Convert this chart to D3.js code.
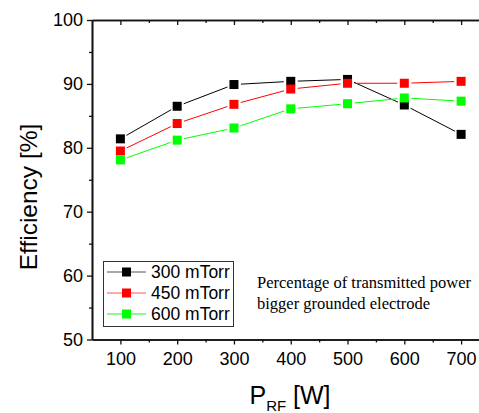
<!DOCTYPE html>
<html><head><meta charset="utf-8">
<script src="https://cdn.jsdelivr.net/npm/d3@7"></script>
<style>body{margin:0;background:#fff}svg{display:block}</style>
</head><body>
<script>
const powers = [100, 200, 300, 400, 500, 600, 700];
const eff300 = [81.4, 86.5, 89.9, 90.4, 90.7, 86.7, 82.1];
const eff450 = [79.5, 83.8, 86.8, 89.2, 90.1, 90.1, 90.4];
const eff600 = [78.1, 81.2, 83.1, 86.1, 86.9, 87.8, 87.3];
const seriesNames = ["300 mTorr", "450 mTorr", "600 mTorr"];
const seriesColors = ["#000000", "#ff0000", "#00ff00"];
const legendLineColors = ["#555555", "#ff5555", "#22ee22"];
const xMajor = [100, 200, 300, 400, 500, 600, 700];
const xMinor = [150, 250, 350, 450, 550, 650, 750];
const yMajor = [50, 60, 70, 80, 90, 100];
const yMinor = [55, 65, 75, 85, 95];
const note = ["Percentage of transmitted power", "bigger grounded electrode"];

const W = 479, H = 413;
const svg = d3.select("body").append("svg").attr("width", W).attr("height", H);
const x = d3.scaleLinear().domain([50, 750]).range([92, 489.5]);
const y = d3.scaleLinear().domain([50, 100]).range([339.5, 20]);
const axisColor = "#111";

// left axis
const gl = svg.append("g").attr("transform", `translate(${x(50)},0)`);
gl.call(d3.axisLeft(y).tickValues(yMajor).tickSize(5).tickSizeOuter(0).tickPadding(4).tickFormat(d3.format("d")));
gl.append("g").call(d3.axisLeft(y).tickValues(yMinor).tickSize(3).tickSizeOuter(0).tickFormat(""));
// bottom axis
const gb = svg.append("g").attr("transform", `translate(0,${y(50)})`);
gb.call(d3.axisBottom(x).tickValues(xMajor).tickSize(5).tickSizeOuter(0).tickPadding(8).tickFormat(d3.format("d")));
gb.append("g").call(d3.axisBottom(x).tickValues(xMinor).tickSize(3).tickSizeOuter(0).tickFormat(""));
// top axis (ticks inward)
const gt = svg.append("g").attr("transform", `translate(0,${y(100)})`);
gt.call(d3.axisBottom(x).tickValues(xMajor).tickSize(5).tickSizeOuter(0).tickFormat(""));
gt.append("g").call(d3.axisBottom(x).tickValues(xMinor).tickSize(3).tickSizeOuter(0).tickFormat(""));

svg.selectAll(".domain").attr("stroke", axisColor).attr("stroke-width", 1.6);
svg.selectAll(".tick line").attr("stroke", axisColor).attr("stroke-width", 1.3);
svg.selectAll(".tick text").attr("font-family", "Liberation Sans, Arial, sans-serif").attr("font-size", 18).attr("fill", "#000");

// series
const allSeries = [eff300, eff450, eff600];
const ms = 9, gap = 7;
allSeries.forEach((vals, si) => {
  const pts = powers.map((p, i) => [x(p), y(vals[i])]);
  const g = svg.append("g");
  for (let i = 0; i < pts.length - 1; i++) {
    const [x1, y1] = pts[i], [x2, y2] = pts[i + 1];
    const dx = x2 - x1, dy = y2 - y1, L = Math.hypot(dx, dy);
    const ux = dx / L, uy = dy / L;
    g.append("line")
      .attr("x1", x1 + ux * gap).attr("y1", y1 + uy * gap)
      .attr("x2", x2 - ux * gap).attr("y2", y2 - uy * gap)
      .attr("stroke", seriesColors[si]).attr("stroke-width", 1);
  }
  g.selectAll("rect").data(pts).join("rect")
    .attr("x", d => d[0] - ms / 2).attr("y", d => d[1] - ms / 2)
    .attr("width", ms).attr("height", ms)
    .attr("fill", seriesColors[si]);
});

// legend
const lg = svg.append("g");
lg.append("rect").attr("x", 103.5).attr("y", 261.5).attr("width", 130).attr("height", 65)
  .attr("fill", "#fff").attr("stroke", "#333").attr("stroke-width", 1);
seriesNames.forEach((n, i) => {
  const cy = 272 + i * 21;
  lg.append("line").attr("x1", 107).attr("x2", 146).attr("y1", cy).attr("y2", cy)
    .attr("stroke", legendLineColors[i]).attr("stroke-width", 1);
  lg.append("rect").attr("x", 122).attr("y", cy - 4.5).attr("width", 9).attr("height", 9)
    .attr("fill", seriesColors[i]);
  lg.append("text").attr("x", 151).attr("y", cy + 6).text(n)
    .attr("font-family", "Liberation Sans, Arial, sans-serif").attr("font-size", 17.5).attr("fill", "#000");
});

// annotation
note.forEach((t, i) => {
  svg.append("text").attr("x", 257).attr("y", 288 + i * 21).text(t)
    .attr("font-family", "Liberation Serif, Times New Roman, serif").attr("font-size", 16.5).attr("fill", "#000");
});

// axis titles
svg.append("text").attr("transform", `translate(37,197) rotate(-90)`)
  .attr("text-anchor", "middle").text("Efficiency [%]")
  .attr("font-family", "Liberation Sans, Arial, sans-serif").attr("font-size", 24.5).attr("fill", "#000");
const xt = svg.append("text").attr("x", 290).attr("y", 404).attr("text-anchor", "middle")
  .attr("font-family", "Liberation Sans, Arial, sans-serif").attr("font-size", 25).attr("fill", "#000");
xt.append("tspan").text("P");
xt.append("tspan").attr("font-size", 15).attr("dy", 7).text("RF");
xt.append("tspan").attr("dy", -7).text(" [W]");
</script>
</body></html>
